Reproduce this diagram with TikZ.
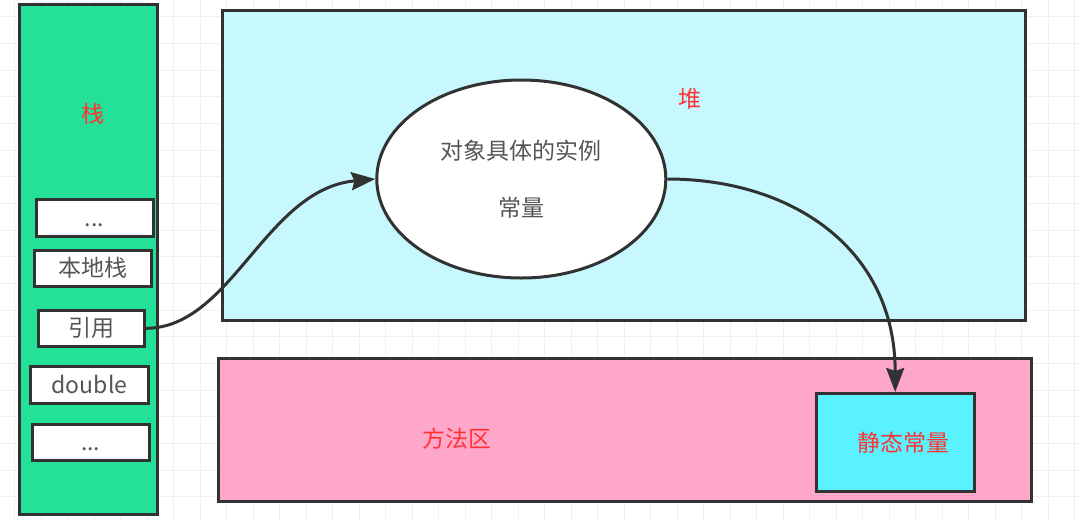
\documentclass[tikz,border=0pt]{standalone}
\usepackage{fontspec}
\setmainfont{Noto Sans CJK SC}
\usepackage{xcolor}
\usepackage{tikz}
\usetikzlibrary{shapes.geometric,arrows.meta}
\definecolor{stackgreen}{RGB}{35,225,150}
\definecolor{heapcyan}{RGB}{198,248,254}
\definecolor{methodpink}{RGB}{255,166,203}
\definecolor{staticcyan}{RGB}{90,242,254}
\definecolor{edgegray}{RGB}{50,50,50}
\definecolor{labelred}{RGB}{255,51,51}
\definecolor{textgray}{RGB}{85,85,85}
\definecolor{gridgray}{RGB}{240,240,240}

\begin{document}
\begin{tikzpicture}[x=1pt,y=-1pt,
  area/.style={draw=edgegray,line width=3pt},
  slot/.style={draw=edgegray,line width=3pt,fill=white,inner sep=0pt,
    minimum height=36.5pt,text=textgray,text height=1.7em,text depth=0.1em},
  tag/.style={text=labelred},
  link/.style={draw=edgegray,line width=3pt,
    -{Stealth[length=24pt,width=18pt,inset=3pt]}},
  font=\fontsize{23}{27}\selectfont]
  \useasboundingbox (0,0) rectangle (1079,520);

  % background grid
  \foreach \gx in {0,...,40}
    \draw[gridgray,line width=0.8pt] ({14.7+26.5*\gx},0) -- ++(0,520);
  \foreach \gy in {0,...,19}
    \draw[gridgray,line width=0.8pt] (0,{16.7+26.67*\gy}) -- ++(1079,0);

  % stack, full height on the left
  \draw[area,fill=stackgreen] (19,4) rectangle (157,514.3);
  \node[tag] (stacklbl) at (92.7,114) {栈};

  % stack frames
  \node[slot,minimum width=117pt] (dotsa) at (94.5,218) {...};
  \node[slot,minimum width=117.5pt] (native) at (93,268.5) {本地栈};
  \node[slot,minimum width=106pt] (yin) at (91.3,328.3) {引用};
  \node[slot,minimum width=117.7pt] (dbl) at (89.5,385) {double};
  \node[slot,minimum width=117pt] (dotsb) at (90.8,442.7) {...};

  % heap + object instance
  \draw[area,fill=heapcyan] (222.7,10.7) rectangle (1025,320);
  \node[tag] (heaplbl) at (690,99) {堆};
  \node[ellipse,draw=edgegray,line width=3pt,fill=white,inner sep=0pt,
    minimum width=289pt,minimum height=198pt,text=textgray,align=center]
    (obj) at (521.3,179) {对象具体的实例\\[30pt]常量};

  % method area + static constants
  \draw[area,fill=methodpink] (218.3,358.3) rectangle (1031.5,501.7);
  \node[tag] (methodlbl) at (457,439) {方法区};
  \node[draw=edgegray,line width=3pt,fill=staticcyan,inner sep=0pt,
    minimum width=158pt,minimum height=98pt,text=labelred,
    text height=1.85em,text depth=0.1em]
    (static) at (895.2,442.5) {\hspace{16pt}静态常量};

  % references
  \draw[link] (yin.east) .. controls +(86,0) and +(-110,10) .. (obj.west);
  \draw[link] (obj.east) .. controls +(125,0) and +(0,-143) .. (static.north);
\end{tikzpicture}
\end{document}
